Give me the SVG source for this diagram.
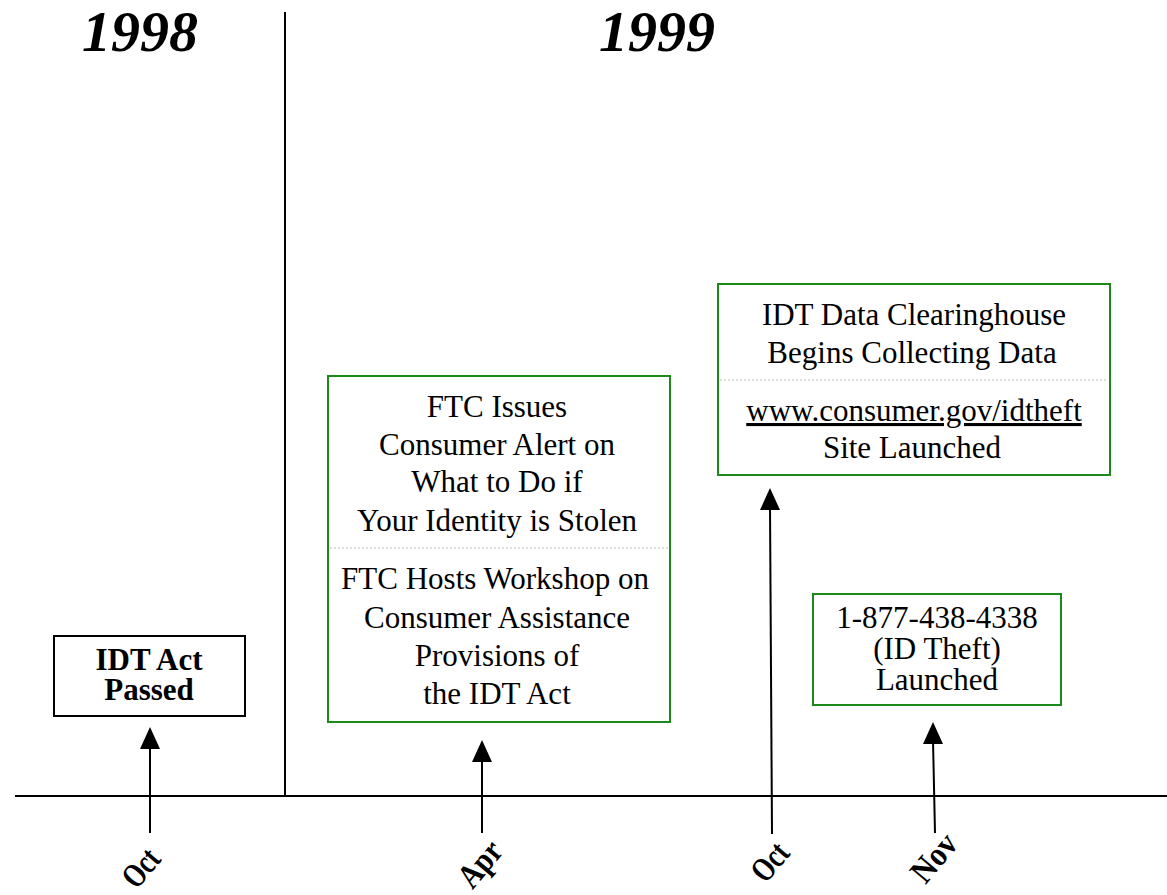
<svg xmlns="http://www.w3.org/2000/svg" width="1167" height="895" viewBox="0 0 1167 895">
<style>
.t{font-family:"Liberation Serif","Times New Roman",serif;font-size:31px;fill:#000;text-anchor:middle}
.b{font-weight:bold}
.yr{font-family:"Liberation Serif",serif;font-size:58px;font-weight:bold;font-style:italic;text-anchor:middle}
.mo{font-family:"Liberation Serif",serif;font-size:34px;font-weight:bold;text-anchor:middle}
.gb{fill:#fff;stroke:#1a8a1a;stroke-width:2}
.kb{fill:#fff;stroke:#000;stroke-width:2}
.sep{stroke:#bbb;stroke-width:1.2;stroke-dasharray:2 2}
.ax{stroke:#000;stroke-width:2;fill:none}
</style>
<g id="years">
<text class="yr" x="140" y="51">1998</text>
<text class="yr" x="657" y="51">1999</text>
</g>
<g id="axes">
<line class="ax" x1="285" y1="12" x2="285" y2="796"/>
<line class="ax" x1="15" y1="796" x2="1167" y2="796"/>
</g>
<g id="connectors" stroke="#000" stroke-width="2" fill="none">
<path d="M150,833 L150,745"/>
<path d="M482,833 L482,758"/>
<path d="M772,834 L770,506"/>
<path d="M935,833 L933,740"/>
<g fill="#000" stroke="none">
<path d="M150,727 L140,749 L160,749 Z"/>
<path d="M482,740 L472,762 L492,762 Z"/>
<path d="M770,488 L760,510 L780,510 Z"/>
<path d="M933,722 L923,744 L943,744 Z"/>
</g>
</g>
<g id="node-idt-act">
<rect class="kb" x="54" y="636" width="191" height="80"/>
<text class="t b" x="149" y="670" font-size="28">IDT Act</text>
<text class="t b" x="149" y="700" font-size="28">Passed</text>
</g>
<g id="node-ftc">
<rect class="gb" x="328" y="376" width="342" height="346"/>
<text class="t" x="497" y="417">FTC Issues</text>
<text class="t" x="497" y="455">Consumer Alert on</text>
<text class="t" x="497" y="492">What to Do if</text>
<text class="t" x="497" y="531">Your Identity is Stolen</text>
<line class="sep" x1="330" y1="548" x2="668" y2="548"/>
<text class="t" x="495" y="589">FTC Hosts Workshop on</text>
<text class="t" x="497" y="628">Consumer Assistance</text>
<text class="t" x="497" y="666">Provisions of</text>
<text class="t" x="497" y="704">the IDT Act</text>
</g>
<g id="node-clearinghouse">
<rect class="gb" x="718" y="284" width="392" height="191"/>
<text class="t" x="914" y="325">IDT Data Clearinghouse</text>
<text class="t" x="912" y="363">Begins Collecting Data</text>
<line class="sep" x1="720" y1="380" x2="1108" y2="380"/>
<text class="t" x="914" y="421" text-decoration="underline">www.consumer.gov/idtheft</text>
<text class="t" x="912" y="458">Site Launched</text>
</g>
<g id="node-hotline">
<rect class="gb" x="813" y="594" width="248" height="111"/>
<text class="t" x="937" y="628" font-size="29">1-877-438-4338</text>
<text class="t" x="937" y="659" font-size="29">(ID Theft)</text>
<text class="t" x="937" y="690" font-size="29">Launched</text>
</g>
<g id="months">
<text class="mo" transform="translate(141,868) rotate(-50) scale(0.75,1)" y="11">Oct</text>
<text class="mo" transform="translate(480,864) rotate(-50) scale(0.85,1)" y="11">Apr</text>
<text class="mo" transform="translate(770,862) rotate(-50) scale(0.75,1)" y="11">Oct</text>
<text class="mo" transform="translate(934,858) rotate(-50) scale(0.9,1)" y="11">Nov</text>
</g>
</svg>
